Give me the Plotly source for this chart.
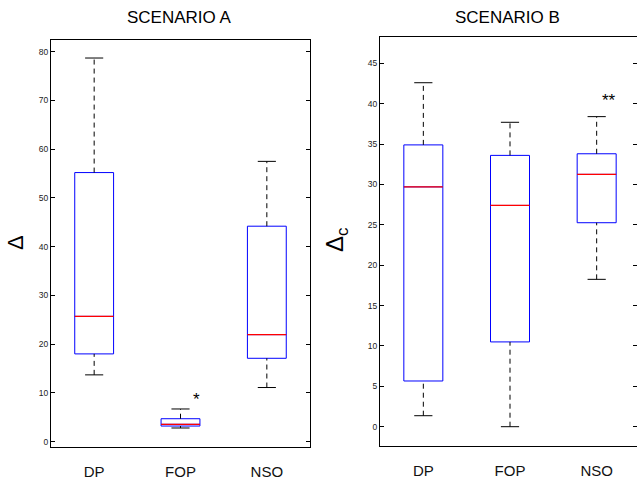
import plotly.graph_objects as go

W, H = 637, 483

categories = ["DP", "FOP", "NSO"]
positions = [1, 2, 3]

# Scenario A box statistics
a_lower = [13.7, 2.8, 11.1]
a_q1 = [18.0, 3.2, 17.1]
a_median = [25.7, 3.56, 21.95]
a_q3 = [55.2, 4.7, 44.2]
a_upper = [78.7, 6.7, 57.5]
a_marks = ["", "*", ""]

# Scenario B box statistics
b_lower = [1.36, 0.0, 18.25]
b_q1 = [5.66, 10.5, 25.26]
b_median = [29.7, 27.4, 31.25]
b_q3 = [34.9, 33.6, 33.8]
b_upper = [42.6, 37.7, 38.4]
b_marks = ["", "", "**"]

titles = ["SCENARIO A", "SCENARIO B"]
ylabels = ["Δ", "Δ<sub>c</sub>"]

BOX_W = 0.45
CAP_W = 0.21
FONT = "Liberation Sans, Arial, Helvetica, sans-serif"

fig = go.Figure()


def seg_trace(xs, ys, color, dash, xa, ya, width=1):
    return go.Scatter(x=xs, y=ys, mode="lines", xaxis=xa, yaxis=ya,
                      line=dict(color=color, width=width, dash=dash),
                      hoverinfo="skip", showlegend=False)


def add_panel(lower, q1, med, q3, upper, marks, xa, ya, mark_dx, mark_dy):
    # dashed whiskers
    wx, wy = [], []
    for p, lo, a, b, up in zip(positions, lower, q1, q3, upper):
        wx += [p, p, None, p, p, None]
        wy += [b, up, None, lo, a, None]
    fig.add_trace(seg_trace(wx, wy, "black", "5px,4px", xa, ya))
    # caps
    cx, cy = [], []
    for p, lo, up in zip(positions, lower, upper):
        cx += [p - CAP_W / 2, p + CAP_W / 2, None, p - CAP_W / 2, p + CAP_W / 2, None]
        cy += [up, up, None, lo, lo, None]
    fig.add_trace(seg_trace(cx, cy, "black", "solid", xa, ya))
    # boxes
    fig.add_trace(go.Box(x=positions, q1=q1, median=med, q3=q3,
                         lowerfence=q1, upperfence=q3, width=BOX_W,
                         whiskerwidth=0, boxpoints=False,
                         fillcolor="rgba(0,0,0,0)",
                         line=dict(color="#0000ff", width=1),
                         xaxis=xa, yaxis=ya, showlegend=False, hoverinfo="skip"))
    # medians
    mx, my = [], []
    for p, m in zip(positions, med):
        mx += [p - BOX_W / 2, p + BOX_W / 2, None]
        my += [m, m, None]
    fig.add_trace(seg_trace(mx, my, "#ff0000", "solid", xa, ya, width=1.2))
    # significance marks
    for p, up, mk in zip(positions, upper, marks):
        if mk:
            fig.add_annotation(x=p + mark_dx, y=up + mark_dy, text=mk,
                               xref=xa, yref=ya, showarrow=False,
                               font=dict(size=17, color="black", family=FONT))


add_panel(a_lower, a_q1, a_median, a_q3, a_upper, a_marks, "x", "y", 0.19, 2.0)
add_panel(b_lower, b_q1, b_median, b_q3, b_upper, b_marks, "x2", "y2", 0.14, 2.0)

axis_common = dict(showline=True, linecolor="black", linewidth=1, showgrid=False,
                   zeroline=False)

fig.update_layout(
    width=W, height=H,
    margin=dict(l=0, r=0, t=0, b=0),
    paper_bgcolor="white", plot_bgcolor="white",
    font=dict(family=FONT, color="black"),
    showlegend=False,
    xaxis=dict(domain=[51 / W, 310 / W], range=[0.5, 3.5], anchor="y",
               tickvals=positions, ticktext=categories, ticks="",
               mirror=True, tickfont=dict(size=15, color="#111"),
               ticklabelstandoff=11, **axis_common),
    yaxis=dict(domain=[(H - 447) / H, (H - 39.5) / H], range=[-1.1, 82.5],
               anchor="x", dtick=10, ticks="inside", ticklen=4,
               tickcolor="black", mirror="ticks",
               tickfont=dict(size=8.5, color="#222"), **axis_common),
    xaxis2=dict(domain=[380 / W, 1.0], range=[0.5, 3.5 - 3 / 86.6], anchor="y2",
                tickvals=positions, ticktext=categories, ticks="",
                mirror=True, tickfont=dict(size=15, color="#111"),
                ticklabelstandoff=11, **axis_common),
    yaxis2=dict(domain=[(H - 445.5) / H, (H - 36.7) / H], range=[-2.33, 48.3],
                anchor="x2", dtick=5, ticks="inside", ticklen=4,
                tickcolor="black", mirror="ticks",
                tickfont=dict(size=8.5, color="#222"), **axis_common),
)

# panel titles
for xc, t in zip([179.5 / W, 507 / W], titles):
    fig.add_annotation(x=xc, y=(H - 18) / H, xref="paper", yref="paper",
                       text=t, showarrow=False, xanchor="center", yanchor="middle",
                       font=dict(size=17, color="black", family=FONT))

# y axis labels
fig.add_annotation(x=16 / W, y=(H - 243) / H, xref="paper", yref="paper",
                   text=ylabels[0], showarrow=False, textangle=-90,
                   xanchor="center", yanchor="middle",
                   font=dict(size=22, color="black", family=FONT))
fig.add_annotation(x=336 / W, y=(H - 240) / H, xref="paper", yref="paper",
                   text=ylabels[1], showarrow=False, textangle=-90,
                   xanchor="center", yanchor="middle",
                   font=dict(size=24, color="black", family=FONT))

fig.write_html("out.html", config={"displayModeBar": False},
               post_script="document.body.style.margin='0px';document.body.style.overflow='hidden';")
